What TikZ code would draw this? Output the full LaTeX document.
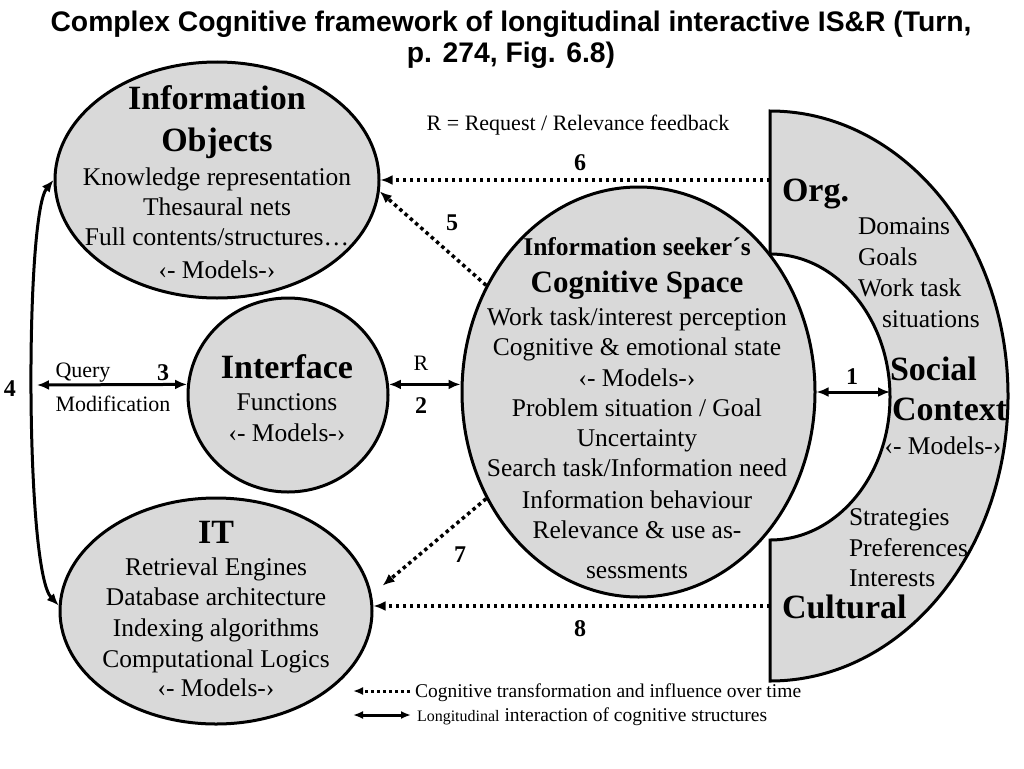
\documentclass[tikz,border=0pt]{standalone}
\usepackage{fontspec}
\setmainfont{Liberation Serif}
\newfontfamily\mytitlefont{Liberation Sans}
\usetikzlibrary{arrows.meta,shapes.geometric}
\definecolor{cgray}{HTML}{D9D9D9}
\newcommand\myfb{\fontsize{25.5}{31}\selectfont}
\newcommand\myfh{\fontsize{34}{40}\selectfont\bfseries}
\newcommand\myfc{\fontsize{31}{36}\selectfont\bfseries}
\newcommand\myfk{\fontsize{25.5}{31}\selectfont\bfseries}
\newcommand\myfs{\fontsize{22}{26}\selectfont}
\newcommand\myfn{\fontsize{24}{28}\selectfont\bfseries}
\newcommand\myfl{\fontsize{19.5}{23}\selectfont}
\newcommand\myft{\fontsize{28.3}{33}\selectfont\mytitlefont\bfseries}
\begin{document}
\begin{tikzpicture}[x=1pt,y=-1pt,
  blob/.style={ellipse, draw, line width=3pt, fill=cgray, inner sep=0pt},
  tx/.style={anchor=base, inner sep=0pt, outer sep=0pt},
  txl/.style={anchor=base west, inner sep=0pt, outer sep=0pt},
  dotarr/.style={line width=3.5pt, dash pattern=on 3.5pt off 3.5pt, -{Latex[length=12pt,width=10pt]}},
  bothar/.style={line width=3pt, {Latex[length=12pt,width=10pt]}-{Latex[length=12pt,width=10pt]}}]
\useasboundingbox (0,0) rectangle (1024,768);

% title
\node[tx, font=\myft] (title1) at (511,32) {Complex Cognitive framework of longitudinal interactive IS\&R (Turn,};
\node[tx, font=\myft] (title2) at (511,63) {p. 274, Fig. 6.8)};

% social context ring
\draw[line width=3pt, fill=cgray] (770,111) arc[start angle=-90, end angle=90, x radius=238, y radius=285]
  -- (770,540) arc[start angle=90, end angle=-90, x radius=120, y radius=143] -- cycle;
\coordinate (ringin) at (890,392);
\coordinate (c6) at (770,180);
\coordinate (c8) at (770,606);

% ellipses
\node[blob, minimum width=324, minimum height=236] (io) at (217,180) {};
\node[blob, minimum width=200, minimum height=194] (iface) at (288,395) {};
\node[blob, minimum width=312, minimum height=226] (it) at (216,611) {};
\node[blob, minimum width=353, minimum height=410] (cog) at (638.5,392) {};

% Information objects
\node[tx, font=\myfh] (io1) at (217,109) {Information};
\node[tx, font=\myfh] (io2) at (217,151) {Objects};
\node[tx, font=\myfb] (io3) at (217,185) {Knowledge representation};
\node[tx, font=\myfb] (io4) at (217,215) {Thesaural nets};
\node[tx, font=\myfb] (io5) at (217,245) {Full contents/structures…};
\node[tx, font=\myfb] (io6) at (217,278) {‹- Models-›};

% Interface
\node[tx, font=\myfh] (if1) at (287,378) {Interface};
\node[tx, font=\myfb] (if2) at (287,410) {Functions};
\node[tx, font=\myfb] (if3) at (287,441) {‹- Models-›};

% IT
\node[tx, font=\myfh] (it1) at (216,543) {IT};
\node[tx, font=\myfb] (it2) at (216,575) {Retrieval Engines};
\node[tx, font=\myfb] (it3) at (216,605) {Database architecture};
\node[tx, font=\myfb] (it4) at (216,636) {Indexing algorithms};
\node[tx, font=\myfb] (it5) at (216,667) {Computational Logics};
\node[tx, font=\myfb] (it6) at (216,696) {‹- Models-›};

% Cognitive space
\node[tx, font=\myfk] (cg1) at (637,255) {Information seeker´s};
\node[tx, font=\myfc] (cg2) at (637,292) {Cognitive Space};
\node[tx, font=\myfb] (cg3) at (637,325) {Work task/interest perception};
\node[tx, font=\myfb] (cg4) at (637,355) {Cognitive \& emotional state};
\node[tx, font=\myfb] (cg5) at (637,386) {‹- Models-›};
\node[tx, font=\myfb] (cg6) at (637,416) {Problem situation / Goal};
\node[tx, font=\myfb] (cg7) at (637,446) {Uncertainty};
\node[tx, font=\myfb] (cg8) at (637,476) {Search task/Information need};
\node[tx, font=\myfb] (cg9) at (637,508) {Information behaviour};
\node[tx, font=\myfb] (cg10) at (637,538) {Relevance \& use as-};
\node[tx, font=\myfb] (cg11) at (637,578) {sessments};

% Social context texts
\node[txl, font=\myfh] (sc1) at (782,201) {Org.};
\node[txl, font=\myfb] (sc2) at (858,234) {Domains};
\node[txl, font=\myfb] (sc3) at (858,265) {Goals};
\node[txl, font=\myfb] (sc4) at (858,296) {Work task};
\node[txl, font=\myfb] (sc5) at (882,327) {situations};
\node[txl, font=\myfh] (sc6) at (890,380) {Social};
\node[txl, font=\myfh] (sc7) at (892,420) {Context};
\node[tx, font=\myfb] (sc8) at (943,454) {‹- Models-›};
\node[txl, font=\myfb] (sc9) at (849,525) {Strategies};
\node[txl, font=\myfb] (sc10) at (849,556) {Preferences};
\node[txl, font=\myfb] (sc11) at (849,586) {Interests};
\node[txl, font=\myfh] (sc12) at (782,618) {Cultural};

% labels
\node[tx, font=\myfs] (rr) at (578,130) {R = Request / Relevance feedback};
\node[tx, font=\myfn] (l6) at (580,170) {6};
\node[tx, font=\myfn] (l5) at (452,230) {5};
\node[tx, font=\myfn] (l7) at (460,562) {7};
\node[tx, font=\myfn] (l8) at (580,636) {8};
\node[tx, font=\myfn] (l1) at (852,384) {1};
\node[tx, font=\myfn] (l2) at (421,413) {2};
\node[tx, font=\myfs] (lr) at (421,370) {R};
\node[tx, font=\myfn] (l3) at (163,380) {3};
\node[tx, font=\myfn] (l4) at (10,396) {4};
\node[tx, font=\myfs] (lq) at (83,377) {Query};
\node[tx, font=\myfs] (lm) at (113,411) {Modification};

% connectors
\draw[dotarr] (c6) -- (c6 -| io.east);
\draw[dotarr] (cog.145) -- (io.-4);
\draw[dotarr, shorten >=14pt] (cog.-145) -- (it.6);
\draw[dotarr] (c8) -- (c8 -| it.east);
\draw[bothar] (cog.east) -- (ringin);
\draw[bothar] (iface.6) -- (cog.west |- iface.6);
\coordinate (c3) at (37,385);
\draw[bothar] (c3) -- (iface.174);
\draw[bothar] (io.west) .. controls (25,215) and (25,570) .. (it.178);

% legend
\node[txl, font=\myfl] (leg1) at (415,697) {Cognitive transformation and influence over time};
\node[txl, font=\myfl] (leg2) at (417,721) {{\fontsize{16}{19}\selectfont Longitudinal} interaction of cognitive structures};
\coordinate (g1a) at (410,691);
\coordinate (g1b) at (353,691);
\coordinate (g2a) at (353,715);
\coordinate (g2b) at (411,715);
\draw[line width=3pt, dash pattern=on 3pt off 3pt, -{Latex[length=10pt,width=8pt]}] (g1a) -- (g1b);
\draw[line width=3pt, {Latex[length=10pt,width=8pt]}-{Latex[length=10pt,width=8pt]}] (g2a) -- (g2b);
\end{tikzpicture}
\end{document}
